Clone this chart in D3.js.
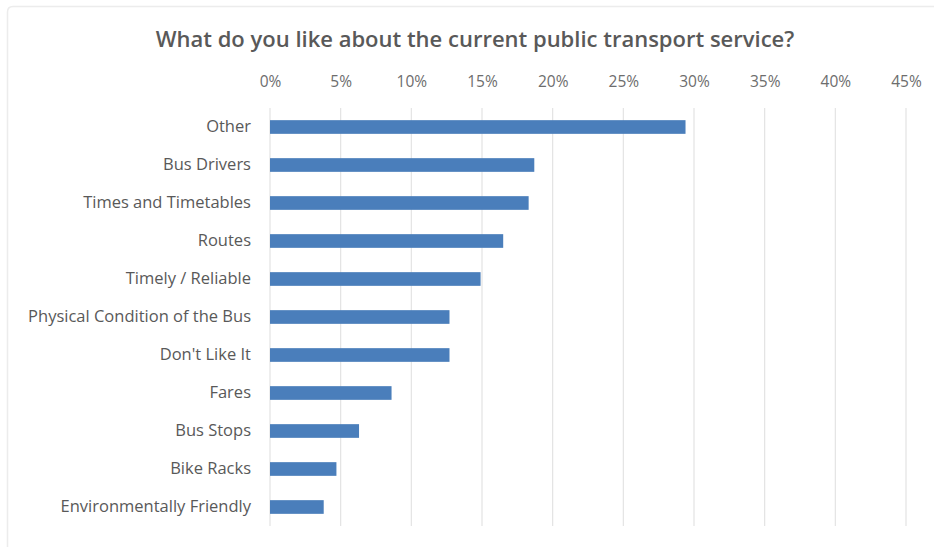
<!DOCTYPE html>
<html>
<head>
<meta charset="utf-8">
<script src="https://cdn.jsdelivr.net/npm/d3@7"></script>
<style>
  body { margin: 0; background: #fff; }
</style>
</head>
<body>
<div id="chart"></div>
<script>
var categories = ["Other", "Bus Drivers", "Times and Timetables", "Routes", "Timely / Reliable",
    "Physical Condition of the Bus", "Don't Like It", "Fares", "Bus Stops", "Bike Racks",
    "Environmentally Friendly"];
var values = [0.294, 0.187, 0.183, 0.165, 0.149, 0.127, 0.127, 0.086, 0.063, 0.047, 0.038];
var tickValues = [0, 0.05, 0.10, 0.15, 0.20, 0.25, 0.30, 0.35, 0.40, 0.45];

var W = 934, H = 547;
var margin = { top: 108, right: 28, bottom: 20, left: 270 },
    width = W - margin.left - margin.right,
    height = 526 - margin.top;

var svg = d3.select("#chart")
    .append("svg")
    .attr("width", W)
    .attr("height", H);

// faint frame (only top and left edges show)
svg.append("path")
    .attr("d", "M7.5,547 L7.5,12 Q7.5,6.5 13,6.5 L934,6.5")
    .style("fill", "none")
    .style("stroke", "#ececec")
    .style("stroke-width", 1.5);

svg.append("text")
    .attr("x", 475)
    .attr("y", 47)
    .attr("text-anchor", "middle")
    .style("font-family", "'Open Sans', sans-serif")
    .style("font-weight", "600")
    .style("font-size", "22px")
    .style("fill", "#595959")
    .text("What do you like about the current public transport service?");

var g = svg.append("g")
    .attr("transform", "translate(" + margin.left + "," + margin.top + ")");

var x = d3.scaleLinear().domain([0, 0.45]).range([0, 636]);
var y = d3.scaleBand().domain(categories).range([0, height]).paddingInner(0.64).paddingOuter(0.32);

// gridlines
g.selectAll(".grid")
    .data(tickValues)
    .enter()
    .append("line")
    .attr("class", "grid")
    .attr("x1", function (d) { return x(d); })
    .attr("x2", function (d) { return x(d); })
    .attr("y1", 0)
    .attr("y2", height)
    .style("stroke", "#e3e3e3")
    .style("stroke-width", 1.2);

// top axis labels
var xAxis = d3.axisTop(x).tickValues(tickValues).tickFormat(d3.format(".0%")).tickSize(0).tickPadding(0);
var ax = g.append("g")
    .attr("transform", "translate(0,-21)")
    .call(xAxis);
ax.select(".domain").remove();
ax.selectAll("text")
    .style("font-family", "'Open Sans', sans-serif")
    .style("font-size", "15.5px")
    .style("fill", "#6d6d6d");

// category labels
var yAxis = d3.axisLeft(y).tickSize(0).tickPadding(19);
var ay = g.append("g").call(yAxis);
ay.select(".domain").remove();
ay.selectAll("text")
    .style("font-family", "'Open Sans', sans-serif")
    .style("font-size", "16.5px")
    .style("fill", "#595959");

g.selectAll(".bar")
    .data(values)
    .enter()
    .append("rect")
    .attr("class", "bar")
    .attr("x", x(0))
    .attr("y", function (d, i) { return y(categories[i]); })
    .attr("width", function (d) { return x(d) - x(0); })
    .attr("height", y.bandwidth())
    .style("fill", "#4a7ebb");
</script>
</body>
</html>
